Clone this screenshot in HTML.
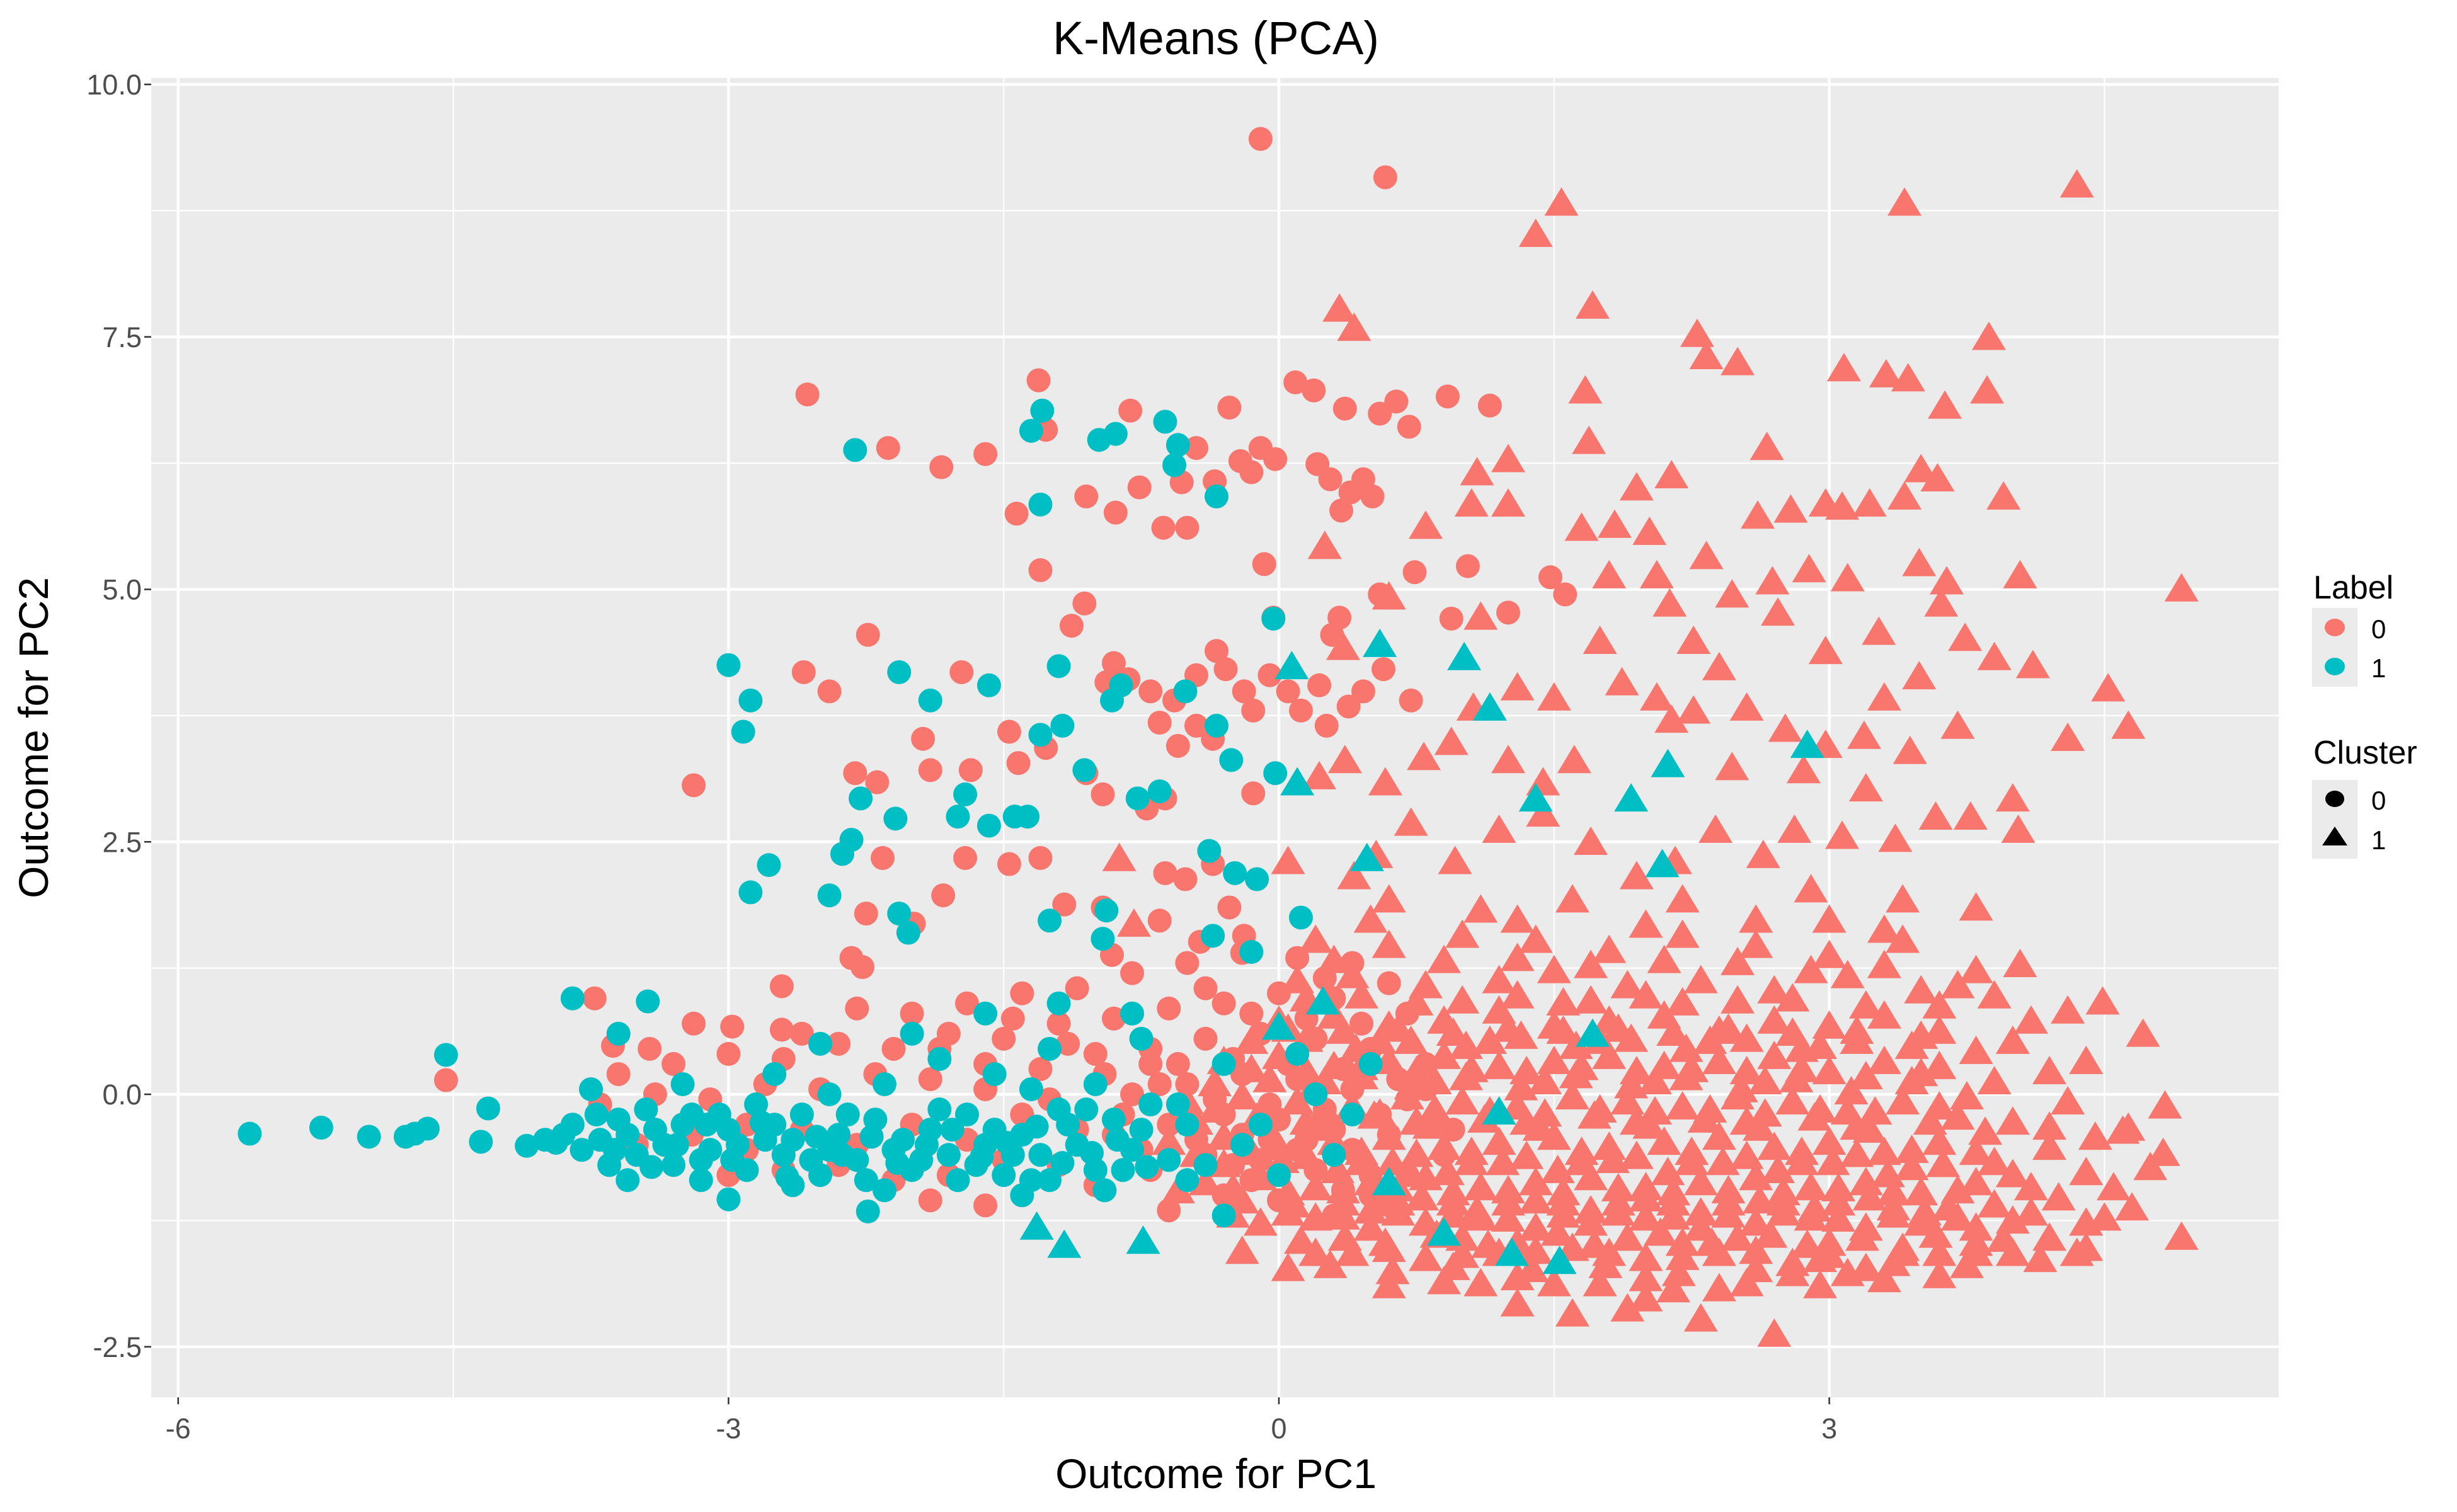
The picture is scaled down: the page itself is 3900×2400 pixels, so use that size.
<!DOCTYPE html>
<html><head><meta charset="utf-8"><title>K-Means (PCA)</title>
<style>
html,body{margin:0;padding:0;background:#fff;}
svg{display:block;font-family:"Liberation Sans",Arial,sans-serif;}
</style></head>
<body>
<svg id="chart" width="3900" height="2400" viewBox="0 0 3900 2400" xmlns="http://www.w3.org/2000/svg">
<rect x="0" y="0" width="3900" height="2400" fill="#ffffff"/>
<rect x="240" y="124" width="3377" height="2094" fill="#EBEBEB"/>
<g id="grid"></g>
<g id="marks"></g>
<g id="axes"></g>
<text x="1930" y="86" font-size="74" text-anchor="middle" fill="#000">K-Means (PCA)</text>
<text x="1930" y="2362" font-size="66" text-anchor="middle" fill="#000">Outcome for PC1</text>
<text x="0" y="0" font-size="66" text-anchor="middle" fill="#000" transform="translate(76,1171) rotate(-90)">Outcome for PC2</text>
<g>
<text x="3672" y="950" font-size="52" fill="#000">Label</text>
<rect x="3670" y="965" width="72" height="125" fill="#EBEBEB"/>
<ellipse cx="3706" cy="996" rx="16" ry="14" fill="#F8766D"/>
<ellipse cx="3706" cy="1058" rx="16" ry="14" fill="#00BFC4"/>
<text x="3764" y="1013" font-size="42" fill="#000">0</text>
<text x="3764" y="1075" font-size="42" fill="#000">1</text>
</g>
<g>
<text x="3672" y="1212" font-size="52" fill="#000">Cluster</text>
<rect x="3670" y="1238" width="72" height="125" fill="#EBEBEB"/>
<ellipse cx="3706" cy="1268" rx="15" ry="13" fill="#000"/>
<polygon points="3686,1342 3726,1342 3706,1312" fill="#000"/>
<text x="3764" y="1285" font-size="42" fill="#000">0</text>
<text x="3764" y="1348" font-size="42" fill="#000">1</text>
</g>
</svg>
<script>
const xTicks = [-6, -3, 0, 3];
const xTickLabels = ["-6", "-3", "0", "3"];
const yTicks = [-2.5, 0, 2.5, 5, 7.5, 10];
const yTickLabels = ["-2.5", "0.0", "2.5", "5.0", "7.5", "10.0"];

const redTriangles = [
[1.40,8.49],[1.54,8.80],[1.71,7.78],[3.41,8.80],[4.35,8.98],[4.92,4.98],[4.63,3.62],[4.52,3.99],[4.11,4.22],[0.33,7.75],[0.41,7.56],
[2.28,7.50],[2.33,7.28],[2.50,7.22],[3.08,7.16],[3.31,7.10],[3.43,7.06],[3.63,6.79],[3.86,6.94],[3.87,7.47],[1.67,6.94],[1.69,6.44],
[2.66,6.38],[3.50,6.16],[3.59,6.07],[3.95,5.89],[2.98,5.82],[2.79,5.76],[2.61,5.70],[1.25,6.26],[1.08,6.13],[1.05,5.82],[1.25,5.82],
[1.95,5.98],[2.14,6.10],[2.33,5.30],[2.02,5.54],[1.83,5.61],[1.80,5.11],[1.65,5.58],[2.06,5.11],[2.69,5.05],[2.89,5.17],[3.10,5.08],
[3.49,5.23],[3.64,5.05],[4.04,5.11],[3.41,5.89],[3.22,5.82],[3.07,5.79],[3.27,4.55],[3.49,4.11],[3.61,4.83],[3.74,4.49],[2.98,4.36],
[2.72,4.74],[2.47,4.92],[2.13,4.83],[2.26,4.46],[1.75,4.46],[1.87,4.05],[2.06,3.90],[2.14,3.68],[2.26,3.77],[2.55,3.80],[2.76,3.59],
[2.98,3.43],[3.19,3.52],[3.70,3.62],[3.44,3.37],[2.86,3.18],[2.47,3.21],[1.61,3.28],[1.44,3.06],[1.25,3.28],[1.06,3.80],[0.94,3.46],
[0.79,3.31],[0.58,3.06],[0.36,3.28],[0.22,3.12],[0.72,2.66],[0.96,2.28],[1.20,2.59],[1.44,2.75],[1.70,2.47],[1.95,2.13],[2.16,2.28],
[2.38,2.59],[2.64,2.34],[2.81,2.59],[3.07,2.53],[3.36,2.50],[3.58,2.72],[3.77,2.72],[4.03,2.59],[3.80,1.82],[4.04,1.26],[4.49,0.89],
[4.71,0.57],[4.83,-0.14],[4.63,-0.36],[4.82,-0.61],[4.92,-1.44],[4.60,-0.39],[0.41,2.13],[0.53,2.34],[0.05,2.28],[-0.87,2.31],[-0.79,1.66],
[0.35,4.4],[0.6,4.9],[0.25,5.4],[0.8,5.6],[1.3,4.0],[1.1,4.7],[1.5,3.9],[2.4,4.2],[3.3,3.9],[3.9,4.3],[4.3,3.5],[4.0,2.9],[3.2,3.0],
[2.9,2.0],[2.2,1.9],[1.6,1.9],[1.1,1.8],[0.6,1.9],[3.4,1.9],[3.0,1.7],[0.2,1.5],[0.6,1.45],[1.0,1.55],[1.4,1.5],[1.8,1.4],[2.2,1.55],[2.6,1.45],[3.0,1.35],[3.4,1.5],[3.8,1.2],
[0.1,1.1],[0.4,1.15],[0.8,1.05],[1.2,1.1],[1.5,1.2],[1.9,1.05],[2.3,1.1],[2.7,1.0],[3.1,1.15],[3.5,1.0],[3.9,0.95],[4.3,0.8],
[0.0,0.7],[0.3,0.75],[0.6,0.65],[0.9,0.7],[1.2,0.8],[1.5,0.65],[1.8,0.7],[2.1,0.75],[2.4,0.6],[2.7,0.7],[3.0,0.65],[3.3,0.75],[3.6,0.6],[4.0,0.5],[4.4,0.3],
[-0.3,0.3],[0.0,0.35],[0.3,0.25],[0.6,0.3],[0.9,0.35],[1.2,0.25],[1.5,0.3],[1.8,0.35],[2.1,0.25],[2.4,0.3],[2.7,0.35],[3.0,0.2],[3.3,0.3],[3.6,0.25],[3.9,0.1],[4.2,0.2],
[-0.5,-0.1],[-0.2,-0.05],[0.1,-0.1],[0.4,-0.15],[0.7,-0.05],[1.0,-0.1],[1.3,-0.15],[1.6,-0.05],[1.9,-0.1],[2.2,-0.15],[2.5,-0.05],[2.8,-0.1],[3.1,-0.2],[3.4,-0.1],[3.7,-0.25],[4.0,-0.3],[4.3,-0.1],
[-0.6,-0.5],[-0.3,-0.45],[0.0,-0.55],[0.3,-0.5],[0.6,-0.45],[0.9,-0.55],[1.2,-0.5],[1.5,-0.45],[1.8,-0.55],[2.1,-0.5],[2.4,-0.45],[2.7,-0.55],[3.0,-0.5],[3.3,-0.6],[3.6,-0.5],[3.9,-0.7],[4.2,-0.55],
[-0.4,-0.9],[-0.1,-0.85],[0.2,-0.95],[0.5,-0.9],[0.8,-0.85],[1.1,-0.95],[1.4,-0.9],[1.7,-0.85],[2.0,-0.95],[2.3,-0.9],[2.6,-0.85],[2.9,-0.95],[3.2,-0.9],[3.5,-1.0],[3.8,-0.9],[4.1,-0.95],[4.4,-0.8],
[-0.1,-1.3],[0.2,-1.25],[0.5,-1.35],[0.8,-1.3],[1.1,-1.25],[1.4,-1.35],[1.7,-1.3],[2.0,-1.25],[2.3,-1.35],[2.6,-1.3],[2.9,-1.25],[3.2,-1.35],[3.5,-1.3],[3.8,-1.35],[4.1,-1.2],[4.4,-1.3],
[0.4,-1.6],[0.8,-1.65],[1.2,-1.6],[1.6,-1.55],[2.0,-1.65],[2.4,-1.6],[2.8,-1.7],[3.2,-1.75],[3.6,-1.6],[4.0,-1.6],[4.4,-1.55],
[1.1,-1.9],[1.5,-1.9],[2.0,-1.85],[2.4,-1.95],[2.8,-1.8],[3.1,-1.8],[1.6,-2.2],[1.9,-2.15],[2.3,-2.25],[2.7,-2.4],[1.3,-2.1],
[0.15,-0.3],[0.45,-0.7],[0.75,-0.3],[1.05,-0.7],[1.35,-0.3],[1.65,-0.7],[1.95,-0.3],[2.25,-0.7],[2.55,-0.3],[2.85,-0.7],[3.15,-0.35],[3.45,-0.75],
[0.35,-1.1],[0.65,-1.1],[0.95,-1.1],[1.25,-1.1],[1.55,-1.1],[1.85,-1.1],[2.15,-1.1],[2.45,-1.1],[2.75,-1.1],[3.05,-1.1],[3.35,-1.15],[3.65,-1.15],
[0.25,0.1],[0.55,0.5],[0.85,0.1],[1.15,0.5],[1.45,0.1],[1.75,0.5],[2.05,0.1],[2.35,0.5],[2.65,0.1],[2.95,0.45],[1.0,0.9],[1.7,0.9],[2.5,0.9],
[1.0,-1.45],[1.3,-1.5],[1.9,-1.45],[2.2,-1.5],[2.5,-1.45],[3.0,-1.5],[3.4,-1.55],[3.8,-1.6],[4.2,-1.45],
[0.05,-1.75],[0.28,-1.72],[0.62,-1.78],[0.95,-1.74],[1.38,-1.76],[1.78,-1.72],[2.18,-1.8],[2.6,-1.76],[2.95,-1.66],[3.35,-1.7],[3.75,-1.72],[4.15,-1.66],
[0.12,-1.48],[0.36,-1.45],[0.58,-1.5],[0.86,-1.42],[1.14,-1.52],[1.52,-1.4],[1.72,-1.52],[2.08,-1.4],[2.36,-1.5],[2.68,-1.42],[2.88,-1.52],[3.18,-1.45],[3.58,-1.42],[3.95,-1.46],
[-0.2,-1.08],[0.08,-1.12],[0.5,-1.18],[0.78,-1.05],[1.08,-1.18],[1.4,-1.08],[1.7,-1.18],[2.0,-1.06],[2.3,-1.2],[2.62,-1.08],[2.92,-1.16],[3.22,-1.05],[3.52,-1.2],[3.9,-1.12],[4.25,-1.05],
[-0.3,-0.72],[0.02,-0.68],[0.32,-0.78],[0.62,-0.7],[0.92,-0.8],[1.22,-0.7],[1.52,-0.78],[1.82,-0.68],[2.12,-0.8],[2.42,-0.7],[2.72,-0.78],[3.02,-0.7],[3.32,-0.82],[3.62,-0.72],[4.0,-0.82],
[-0.45,-0.3],[-0.12,-0.26],[0.22,-0.36],[0.52,-0.24],[0.82,-0.34],[1.12,-0.28],[1.42,-0.36],[1.72,-0.24],[2.02,-0.34],[2.32,-0.28],[2.62,-0.36],[2.92,-0.26],[3.22,-0.38],[3.55,-0.3],[3.85,-0.4],[4.2,-0.35],
[-0.35,0.08],[-0.05,0.12],[0.18,0.02],[0.45,0.15],[0.72,0.05],[1.02,0.14],[1.32,0.04],[1.62,0.16],[1.92,0.06],[2.22,0.14],[2.52,0.02],[2.82,0.12],[3.12,0.0],[3.45,0.1],[3.75,-0.05],
[-0.15,0.5],[0.15,0.52],[0.42,0.42],[0.72,0.5],[1.02,0.45],[1.32,0.55],[1.62,0.45],[1.92,0.52],[2.22,0.42],[2.55,0.52],[2.85,0.42],[3.15,0.5],[3.45,0.45],[3.8,0.4],
[0.15,0.92],[0.45,0.95],[0.75,0.88],[1.3,0.95],[1.55,0.88],[2.0,0.95],[2.2,0.88],[2.8,0.92],[3.2,0.85],[3.6,0.85],[4.1,0.7],
[0.3,1.3],[0.9,1.3],[1.3,1.32],[1.7,1.25],[2.1,1.3],[2.5,1.28],[2.9,1.2],[3.3,1.25],[3.7,1.05],[0.5,1.7],[1.3,1.7],[2.0,1.65],[2.6,1.7],[3.3,1.6],
[4.45,-0.45],[4.55,-0.95],[4.5,-1.25],[4.35,-1.6],[4.65,-1.15],[4.75,-0.75],
[-0.2,-1.58],[0.2,-1.6],[0.6,-1.56],[1.0,-1.62],[1.4,-1.58],[1.8,-1.6],[2.2,-1.64],[2.6,-1.58],[3.0,-1.62],[3.4,-1.6],[3.8,-1.5],
[-0.25,-1.22],[0.05,-1.2],[0.35,-1.24],[0.65,-1.2],[0.95,-1.22],[1.25,-1.26],[1.55,-1.22],[1.85,-1.2],[2.15,-1.24],[2.45,-1.22],[2.75,-1.2],[3.05,-1.26],[3.35,-1.22],[3.7,-1.25],[4.0,-1.28],
[-0.55,-0.98],[-0.25,-0.96],[0.05,-1.0],[0.35,-0.98],[0.65,-0.96],[0.95,-1.0],[1.25,-0.98],[1.55,-1.0],[1.85,-0.96],[2.15,-1.0],[2.45,-0.98],[2.75,-1.0],[3.05,-0.96],[3.35,-1.0],[3.7,-0.98],
[-0.45,-0.62],[-0.15,-0.6],[0.15,-0.64],[0.45,-0.6],[0.75,-0.62],[1.05,-0.6],[1.35,-0.64],[1.65,-0.6],[1.95,-0.64],[2.25,-0.6],[2.55,-0.64],[2.85,-0.6],[3.15,-0.62],[3.45,-0.58],[3.8,-0.6],
[-0.35,-0.18],[-0.05,-0.2],[0.25,-0.18],[0.55,-0.22],[0.85,-0.18],[1.15,-0.2],[1.45,-0.22],[1.75,-0.18],[2.05,-0.2],[2.35,-0.18],[2.65,-0.22],[2.95,-0.18],[3.25,-0.2],[3.6,-0.15],
[-0.15,0.22],[0.15,0.2],[0.45,0.24],[0.75,0.2],[1.05,0.22],[1.35,0.2],[1.65,0.24],[1.95,0.2],[2.25,0.22],[2.55,0.2],[2.85,0.22],[3.2,0.15],[3.5,0.18],
[0.05,0.62],[0.35,0.6],[0.65,0.62],[0.95,0.58],[1.25,0.62],[1.55,0.6],[1.85,0.62],[2.15,0.58],[2.45,0.62],[2.8,0.58],[3.15,0.6],[3.5,0.55],
[0.6,-1.92],[0.9,-1.88],[1.3,-1.84],[1.75,-1.9],[2.15,-1.96],[2.55,-1.9],[2.95,-1.92],[3.3,-1.86],[3.6,-1.82],[2.0,-2.05]
];

const redCircles = [
[-0.10,9.46],[0.58,9.08],[-2.57,6.93],[-2.13,6.40],[-1.84,6.21],[-1.60,6.34],[-1.31,7.07],[-1.27,6.58],[-0.27,6.80],[0.09,7.05],[0.19,6.97],
[0.36,6.79],[0.55,6.74],[0.64,6.86],[0.71,6.61],[0.92,6.91],[1.15,6.82],[-0.81,6.77],[-0.10,6.40],[-0.45,6.40],[-0.21,6.27],[0.21,6.24],
[-0.02,6.29],[0.39,5.96],[0.51,5.92],[0.34,5.78],[0.46,6.09],[0.28,6.09],[-0.15,6.16],[-0.35,6.07],[-1.05,5.92],[-0.89,5.76],[-0.76,6.01],
[-0.63,5.61],[-0.50,5.61],[-0.53,6.06],[-1.43,5.75],[-1.30,5.19],[-0.08,5.25],[-0.03,4.72],[0.33,4.72],[0.29,4.55],[0.55,4.95],[0.74,5.17],
[0.94,4.71],[1.03,5.23],[1.25,4.77],[1.48,5.12],[1.56,4.95],[-1.06,4.86],[-1.13,4.64],[-2.24,4.55],[-3.19,3.06],[-2.59,4.18],[-2.45,3.99],
[-2.31,3.18],[-2.19,3.09],[-1.90,3.21],[-1.94,3.52],[-1.73,4.18],[-1.68,3.21],[-1.47,3.59],[-1.42,3.28],[-1.27,3.43],[-1.05,3.18],[-0.94,4.08],
[-0.90,4.27],[-0.82,4.11],[-0.70,3.99],[-0.65,3.68],[-0.57,3.90],[-0.45,4.15],[-0.34,4.39],[-0.29,4.21],[-0.19,3.99],[-0.14,3.80],[-0.05,4.15],
[0.05,3.99],[0.12,3.80],[0.22,4.05],[0.26,3.65],[0.38,3.84],[0.46,3.99],[0.57,4.21],[0.72,3.90],[-0.45,3.65],[-0.36,3.52],[-0.55,3.45],
[-0.72,2.83],[-0.62,2.93],[-0.96,2.97],[-0.14,2.98],[-1.71,2.34],[-1.83,1.97],[-2.16,2.34],[-2.25,1.79],[-2.71,1.07],[-2.33,1.35],[-2.27,1.26],
[-1.99,1.69],[-1.47,2.28],[-1.30,2.34],[-1.17,1.88],[-0.96,1.85],[-0.91,1.38],[-0.62,2.19],[-0.65,1.72],[-0.51,2.13],[-0.36,2.28],[-0.27,1.85],
[-0.43,1.51],[-0.19,1.57],[-4.54,0.14],[-3.73,0.95],[-3.63,0.48],[-3.43,0.45],[-3.19,0.70],[-2.98,0.67],[-2.71,0.64],
[-2.3,0.85],[-2.0,0.8],[-1.7,0.9],[-1.4,1.0],[-1.1,1.05],[-0.8,1.2],[-0.5,1.3],[-0.2,1.4],[0.1,1.35],[0.4,1.3],[0.6,1.1],
[-3.6,0.2],[-3.3,0.3],[-3.0,0.4],[-2.7,0.35],[-2.4,0.5],[-2.1,0.45],[-1.8,0.6],[-1.5,0.55],[-1.2,0.7],[-0.9,0.75],[-0.6,0.85],[-0.3,0.9],[0.0,1.0],[0.3,0.95],[0.7,0.8],
[-3.7,-0.1],[-3.4,0.0],[-3.1,-0.05],[-2.8,0.1],[-2.5,0.05],[-2.2,0.2],[-1.9,0.15],[-1.6,0.3],[-1.3,0.25],[-1.0,0.4],[-0.7,0.45],[-0.4,0.55],[-0.1,0.6],[0.2,0.55],[0.5,0.45],[0.8,0.3],
[-3.5,-0.5],[-3.2,-0.4],[-2.9,-0.55],[-2.6,-0.35],[-2.3,-0.5],[-2.0,-0.3],[-1.7,-0.45],[-1.4,-0.2],[-1.1,-0.35],[-0.8,0.0],[-0.5,0.1],[-0.2,0.2],[0.1,0.15],[0.4,0.05],[0.7,-0.05],
[-3.0,-0.8],[-2.7,-0.75],[-2.4,-0.7],[-2.1,-0.85],[-1.8,-0.8],[-1.5,-0.65],[-1.2,-0.7],[-0.9,-0.4],[-0.6,-0.3],[-0.3,-0.2],[0.0,-0.25],[0.3,-0.35],[0.6,-0.4],
[-1.0,-0.9],[-0.7,-0.75],[-0.4,-0.6],[-0.1,-0.65],[0.2,-0.75],[0.5,-0.8],[-1.9,-1.05],[-1.6,-1.1],[-0.6,-1.15],[-0.3,-1.0],[0.0,-1.05],[0.3,-1.2],[0.6,-1.1],
[-2.9,-0.3],[-2.6,0.6],[-1.6,0.05],[-1.25,-0.05],[-0.95,0.2],[-0.45,-0.45],[0.15,-0.45],[0.85,-0.25],[0.9,-0.6],
[-0.55,0.3],[-0.25,0.35],[0.05,0.3],[0.35,0.25],[0.65,0.15],[-0.35,-0.05],[-0.05,-0.1],[0.25,-0.15],[0.55,-0.2],[-0.2,-0.4],[0.4,-0.55],
[-0.15,0.8],[0.15,0.75],[0.45,0.7],[-0.4,1.05],[0.25,1.15],[-0.75,-0.55],[-0.15,-0.85],[0.1,-0.55],[0.35,-0.95],[-0.85,-0.2],[-0.65,0.1],
[-0.05,-0.45],[0.7,-0.8],[0.5,-1.0],[-0.25,-0.7],[0.8,0.05],[0.95,-0.35],[-0.7,0.3],[-1.15,0.5],[-1.45,0.75],[-1.85,0.45]
];

const cyanCircles = [
[-5.61,-0.39],[-5.22,-0.33],[-4.96,-0.42],[-4.76,-0.42],[-4.71,-0.39],[-4.64,-0.34],[-4.54,0.39],[-4.35,-0.47],[-4.31,-0.14],[-4.10,-0.51],
[-4.00,-0.45],[-3.94,-0.48],[-3.85,0.95],[-3.44,0.92],[-3.00,4.25],[-2.88,3.90],[-2.92,3.59],[-2.88,2.00],[-2.78,2.27],[-2.31,6.38],[-2.45,1.97],
[-2.33,2.52],[-2.38,2.38],[-2.28,2.93],[-2.07,4.18],[-2.09,2.73],[-1.90,3.90],[-1.75,2.75],[-1.71,2.97],[-2.07,1.79],[-2.02,1.60],[-1.58,4.05],
[-1.58,2.66],[-1.44,2.75],[-1.37,2.75],[-1.35,6.57],[-1.29,6.77],[-1.30,5.84],[-1.20,4.24],[-1.30,3.56],[-1.18,3.65],[-1.06,3.21],[-1.25,1.72],
[-0.98,6.48],[-0.89,6.54],[-0.62,6.66],[-0.55,6.43],[-0.57,6.23],[-0.34,5.92],[-0.96,1.54],[-0.94,1.82],[-0.91,3.90],[-0.86,4.05],[-0.77,2.93],
[-0.65,3.00],[-0.51,3.99],[-0.34,3.65],[-0.38,2.41],[-0.36,1.57],[-0.26,3.31],[-0.24,2.19],[-0.12,2.13],[-0.15,1.41],[-0.03,4.71],[-0.02,3.18],
[0.12,1.75],[-3.00,-1.04],[-2.24,-1.16],
[-3.85,-0.3],[-3.7,-0.45],[-3.6,-0.25],[-3.5,-0.6],[-3.4,-0.35],[-3.3,-0.7],[-3.2,-0.2],[-3.1,-0.55],[-3.0,-0.35],[-2.9,-0.75],[-2.8,-0.45],
[-2.7,-0.6],[-2.6,-0.2],[-2.5,-0.8],[-2.4,-0.4],[-2.3,-0.65],[-2.2,-0.25],[-2.1,-0.55],[-2.0,-0.75],[-1.9,-0.35],[-1.8,-0.6],[-1.7,-0.2],
[-1.6,-0.5],[-1.5,-0.8],[-1.4,-0.4],[-1.3,-0.6],[-1.2,-0.15],[-1.1,-0.5],[-1.0,-0.75],[-0.9,-0.25],[-0.8,-0.55],[-0.7,-0.1],[-0.6,-0.65],
[-3.75,0.05],[-3.25,0.1],[-2.75,0.2],[-2.45,0.0],[-2.15,0.1],[-1.85,0.35],[-1.55,0.2],[-1.25,0.45],[-1.0,0.1],[-0.75,0.55],[-0.5,-0.3],[-0.3,0.3],
[-3.55,-0.85],[-3.15,-0.85],[-2.65,-0.9],[-2.15,-0.95],[-1.75,-0.85],[-1.35,-0.85],[-0.95,-0.95],[-0.5,-0.85],[-0.2,-0.5],[0.0,-0.8],[0.3,-0.6],
[-2.0,0.6],[-1.6,0.8],[-1.2,0.9],[-0.8,0.8],[-2.5,0.5],[-3.6,0.6],[-1.4,-1.0],[-0.3,-1.2],[0.4,-0.2],[0.1,0.4],
[-3.8,-0.55],[-3.65,-0.7],[-3.45,-0.15],[-3.35,-0.5],[-3.15,-0.65],[-3.05,-0.2],[-2.95,-0.5],[-2.85,-0.1],[-2.65,-0.45],[-2.55,-0.65],[-2.35,-0.2],
[-2.25,-0.85],[-2.05,-0.45],[-1.95,-0.65],[-1.65,-0.7],[-1.55,-0.35],[-1.45,-0.6],[-1.25,-0.85],[-1.15,-0.3],[-0.85,-0.75],[-0.75,-0.35],[-0.55,-0.1],
[-3.55,-0.4],[-3.25,-0.3],[-2.75,-0.3],[-2.45,-0.55],[-1.85,-0.15],[-1.35,0.05],[-1.05,-0.15],[-0.4,-0.7],[-0.1,-0.3],[0.2,0.0],[0.5,0.3],
[-3.9,-0.4],[-3.72,-0.2],[-3.62,-0.55],[-3.42,-0.72],[-3.28,-0.5],[-3.12,-0.3],[-2.98,-0.65],[-2.82,-0.28],[-2.68,-0.82],[-2.52,-0.42],[-2.38,-0.6],
[-2.22,-0.42],[-2.08,-0.68],[-1.92,-0.5],[-1.78,-0.35],[-1.62,-0.62],[-1.48,-0.48],[-1.32,-0.32],[-1.18,-0.68],[-1.02,-0.58],[-0.88,-0.45],[-0.72,-0.72]
];

const cyanTriangles = [
[0.07,4.21],[0.55,4.43],[1.01,4.30],[1.15,3.80],[0.10,3.06],[1.40,2.90],[2.12,3.24],[2.09,2.25],[2.88,3.43],[1.92,2.90],[0.48,2.31],
[-1.32,-1.34],[-1.17,-1.52],[-0.74,-1.48],[1.53,-1.68],[1.27,-1.60],[1.71,0.57],[0.24,0.89],[0.00,0.64],[0.6,-0.9],[0.9,-1.4],[1.2,-0.2]
];

const NS = "http://www.w3.org/2000/svg";
const PL = 240, PR = 3617, PT = 124, PB = 2218;
function sx(v){ return 2030 + v * 291.2; }
function sy(v){ return 1737 - v * 160.3; }

const grid = document.getElementById('grid');
const marks = document.getElementById('marks');
const axes = document.getElementById('axes');

function line(parent, x1, y1, x2, y2, stroke, w){
  const l = document.createElementNS(NS, 'line');
  l.setAttribute('x1', x1); l.setAttribute('y1', y1);
  l.setAttribute('x2', x2); l.setAttribute('y2', y2);
  l.setAttribute('stroke', stroke); l.setAttribute('stroke-width', w);
  parent.appendChild(l);
  return l;
}

for (let i = 0; i < xTicks.length; i++) {
  const m = xTicks[i] + 1.5;
  const l = line(grid, sx(m), PT, sx(m), PB, '#ffffff', 2.2);
  
  
}
for (let i = 0; i < yTicks.length; i++) {
  const m = yTicks[i] + 1.25;
  if (sy(m) < PT) continue;
  const l = line(grid, PL, sy(m), PR, sy(m), '#ffffff', 2.2);
  
  
}
for (let i = 0; i < xTicks.length; i++) {
  const x = sx(xTicks[i]);
  const g = line(grid, x, PT, x, PB, '#ffffff', 4.5);
  
  
  const t = line(axes, x, PB, x, PB + 11, '#333333', 2.5);
  
  
  const tx = document.createElementNS(NS, 'text');
  tx.setAttribute('x', x); tx.setAttribute('y', 2283);
  tx.setAttribute('font-size', '45'); tx.setAttribute('fill', '#4D4D4D');
  tx.setAttribute('text-anchor', 'middle');
  tx.textContent = xTickLabels[i];
  
  
  axes.appendChild(tx);
}
for (let i = 0; i < yTicks.length; i++) {
  const y = sy(yTicks[i]);
  const g = line(grid, PL, y, PR, y, '#ffffff', 4.5);
  
  
  const t = line(axes, PL - 11, y, PL, y, '#333333', 2.5);
  
  
  const tx = document.createElementNS(NS, 'text');
  tx.setAttribute('x', 225); tx.setAttribute('y', y + 16);
  tx.setAttribute('font-size', '45'); tx.setAttribute('fill', '#4D4D4D');
  tx.setAttribute('text-anchor', 'end');
  tx.textContent = yTickLabels[i];
  
  
  axes.appendChild(tx);
}

function drawTriangles(data, color, name){
  for (let i = 0; i < data.length; i++) {
    const cx = sx(data[i][0]), cy = sy(data[i][1]);
    const p = document.createElementNS(NS, 'polygon');
    p.setAttribute('points', (cx-27)+','+(cy+16)+' '+(cx+27)+','+(cy+16)+' '+cx+','+(cy-29));
    p.setAttribute('fill', color);
    
    
    marks.appendChild(p);
  }
}
function drawCircles(data, color, name){
  for (let i = 0; i < data.length; i++) {
    const c = document.createElementNS(NS, 'circle');
    c.setAttribute('cx', sx(data[i][0]));
    c.setAttribute('cy', sy(data[i][1]));
    c.setAttribute('r', 19);
    c.setAttribute('fill', color);
    
    
    marks.appendChild(c);
  }
}
drawTriangles(redTriangles, '#F8766D', 'point-label0-cluster1');
drawCircles(redCircles, '#F8766D', 'point-label0-cluster0');
drawCircles(cyanCircles, '#00BFC4', 'point-label1-cluster0');
drawTriangles(cyanTriangles, '#00BFC4', 'point-label1-cluster1');
</script>
</body></html>
